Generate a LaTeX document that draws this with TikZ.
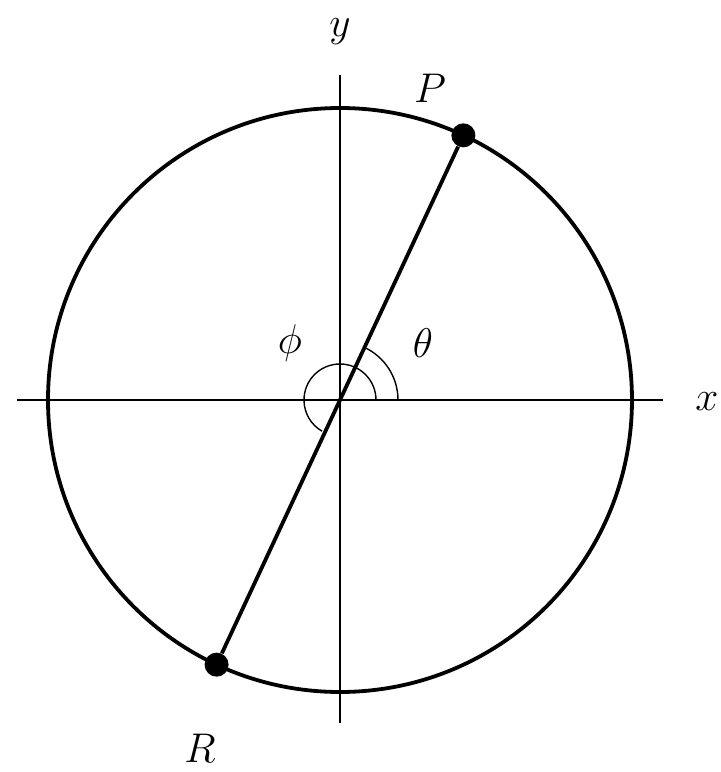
\documentclass[tikz,border=0pt]{standalone}
\usepackage{amsmath, amssymb}
\usepackage{tikz}
\usetikzlibrary{positioning, calc}

\begin{document}
\begin{tikzpicture}[
        x=0.5pt, y=0.5pt,
        rim/.style={line width=1.9pt},
        axis/.style={line width=0.9pt},
        anglearc/.style={line width=0.7pt},
        dot/.style={circle, fill=black, inner sep=0pt, minimum size=12pt},
        lbl/.style={font=\fontsize{22}{26}\selectfont}
    ]
        \useasboundingbox (-340,-372) rectangle (381,400);
        % Achsen
        \coordinate (O) at (0,0);
        \coordinate (xl) at (-323,0);
        \coordinate (xr) at (323,0);
        \coordinate (yb) at (0,-323);
        \coordinate (yt) at (0,325);
        \draw[axis] (xl) -- (xr);
        \draw[axis] (yb) -- (yt);
        \node[lbl] (xlab) at (367,-2) {$x$};
        \node[lbl] (ylab) at (0,368) {$y$};
        
        % Kreis und Durchmesser
        \draw[rim] (O) circle (292);
        \node[dot] (P) at (65:292) {};
        \node[dot] (R) at (245:292) {};
        \draw[rim] (R) -- (P);
        \node[lbl] (plab) at (90,312) {$P$};
        \node[lbl] (rlab) at (-140,-348) {$R$};
        
        % Winkel
        \draw[anglearc] ([shift={(0:58)}]O) arc[start angle=0, end angle=65, radius=58];
        \draw[anglearc] ([shift={(0:36)}]O) arc[start angle=0, end angle=240, radius=36];
        \node[lbl] (theta) at (83,57) {$\theta$};
        \node[lbl] (phi) at (-50,57) {$\phi$};
    \end{tikzpicture}
\end{document}
